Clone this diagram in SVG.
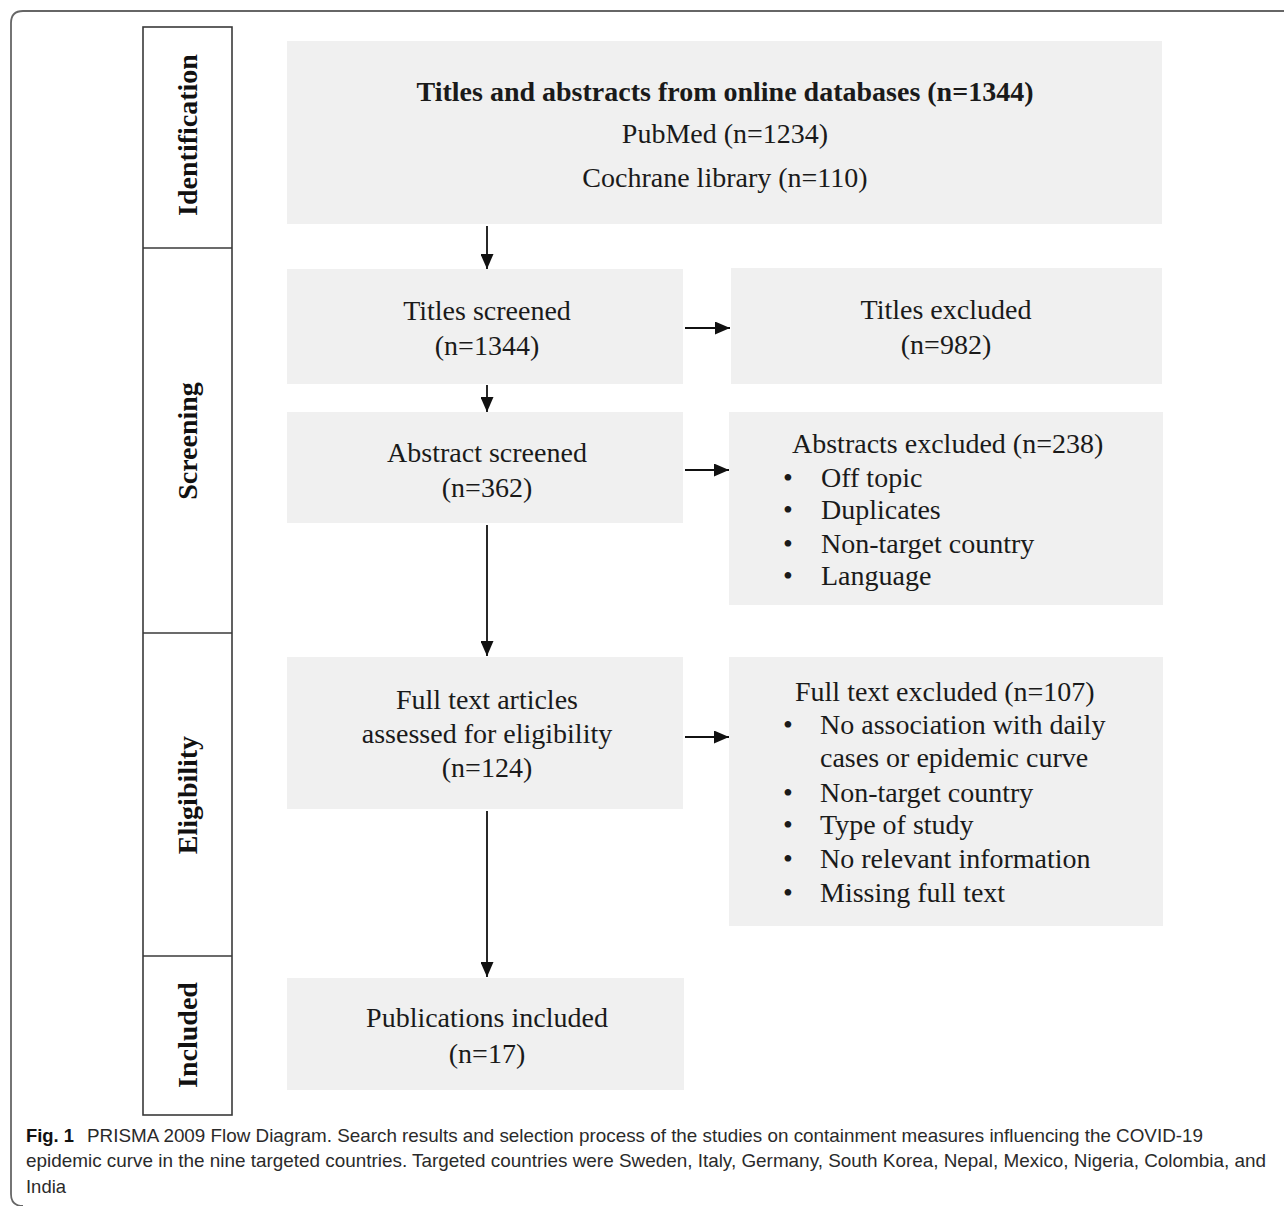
<svg xmlns="http://www.w3.org/2000/svg" width="1284" height="1206" viewBox="0 0 1284 1206">
<style>
.box{fill:#f0f0f0}
.t{font-family:"Liberation Serif","Times New Roman",serif;font-size:28px;fill:#1a1a1a}
.c{text-anchor:middle}
.b{font-weight:bold}
.stage{font-family:"Liberation Serif","Times New Roman",serif;font-size:28px;font-weight:bold;fill:#111;text-anchor:middle}
.col{fill:#fff;stroke:#3a3a3a;stroke-width:1.6}
.div{stroke:#3a3a3a;stroke-width:1.6}
.conn{stroke:#111;stroke-width:1.8;fill:none;marker-end:url(#ah)}
.cap{font-family:"Liberation Sans",Arial,sans-serif;font-size:19px;fill:#2a2a2a}
</style>
<defs>
<marker id="ah" viewBox="0 0 15 13" refX="15" refY="6.5" markerWidth="15" markerHeight="13" markerUnits="userSpaceOnUse" orient="auto">
<path d="M0,0 L15,6.5 L0,13 z" fill="#111"/>
</marker>
</defs>
<rect width="1284" height="1206" fill="#fff"/>
<g id="frame">
<path d="M1290,11 L23,11 Q11,11 11,23 L11,1194 Q11,1206 23,1206" fill="none" stroke="#666" stroke-width="1.8"/>
</g>
<g id="stages">
<rect class="col" x="143" y="27" width="89" height="1088"/>
<line class="div" x1="143" y1="248" x2="232" y2="248"/>
<line class="div" x1="143" y1="633" x2="232" y2="633"/>
<line class="div" x1="143" y1="956" x2="232" y2="956"/>
<text class="stage" transform="translate(197,135) rotate(-90)">Identification</text>
<text class="stage" transform="translate(197,441) rotate(-90)">Screening</text>
<text class="stage" transform="translate(197,795) rotate(-90)">Eligibility</text>
<text class="stage" transform="translate(197,1035) rotate(-90)">Included</text>
</g>
<g id="n-identification">
<rect class="box" x="287" y="41" width="875" height="183"/>
<text class="t c b" x="725" y="101">Titles and abstracts from online databases (n=1344)</text>
<text class="t c" x="725" y="143">PubMed (n=1234)</text>
<text class="t c" x="725" y="187">Cochrane library (n=110)</text>
</g>
<g id="n-titles-screened">
<rect class="box" x="287" y="269" width="396" height="115"/>
<text class="t c" x="487" y="320">Titles screened</text>
<text class="t c" x="487" y="355">(n=1344)</text>
</g>
<g id="n-titles-excluded">
<rect class="box" x="731" y="268" width="431" height="116"/>
<text class="t c" x="946" y="319">Titles excluded</text>
<text class="t c" x="946" y="354">(n=982)</text>
</g>
<g id="n-abstract-screened">
<rect class="box" x="287" y="412" width="396" height="111"/>
<text class="t c" x="487" y="462">Abstract screened</text>
<text class="t c" x="487" y="497">(n=362)</text>
</g>
<g id="n-abstracts-excluded">
<rect class="box" x="729" y="412" width="434" height="193"/>
<text class="t" x="792" y="453">Abstracts excluded (n=238)</text>
<text class="t" x="783" y="487">•</text><text class="t" x="821" y="487">Off topic</text>
<text class="t" x="783" y="519">•</text><text class="t" x="821" y="519">Duplicates</text>
<text class="t" x="783" y="553">•</text><text class="t" x="821" y="553">Non-target country</text>
<text class="t" x="783" y="585">•</text><text class="t" x="821" y="585">Language</text>
</g>
<g id="n-fulltext-assessed">
<rect class="box" x="287" y="657" width="396" height="152"/>
<text class="t c" x="487" y="709">Full text articles</text>
<text class="t c" x="487" y="743">assessed for eligibility</text>
<text class="t c" x="487" y="777">(n=124)</text>
</g>
<g id="n-fulltext-excluded">
<rect class="box" x="729" y="657" width="434" height="269"/>
<text class="t" x="795" y="701">Full text excluded (n=107)</text>
<text class="t" x="783" y="734">•</text><text class="t" x="820" y="734">No association with daily</text>
<text class="t" x="820" y="767">cases or epidemic curve</text>
<text class="t" x="783" y="802">•</text><text class="t" x="820" y="802">Non-target country</text>
<text class="t" x="783" y="834">•</text><text class="t" x="820" y="834">Type of study</text>
<text class="t" x="783" y="868">•</text><text class="t" x="820" y="868">No relevant information</text>
<text class="t" x="783" y="902">•</text><text class="t" x="820" y="902">Missing full text</text>
</g>
<g id="n-included">
<rect class="box" x="287" y="978" width="397" height="112"/>
<text class="t c" x="487" y="1027">Publications included</text>
<text class="t c" x="487" y="1063">(n=17)</text>
</g>
<g id="connectors">
<line class="conn" x1="487" y1="226" x2="487" y2="269"/>
<line class="conn" x1="487" y1="385" x2="487" y2="412"/>
<line class="conn" x1="487" y1="525" x2="487" y2="656"/>
<line class="conn" x1="487" y1="811" x2="487" y2="977"/>
<line class="conn" x1="685" y1="328" x2="730" y2="328"/>
<line class="conn" x1="685" y1="470" x2="729" y2="470"/>
<line class="conn" x1="685" y1="737" x2="729" y2="737"/>
</g>
<g id="caption">
<text class="cap" x="26" y="1142" textLength="48" lengthAdjust="spacingAndGlyphs"><tspan font-weight="bold" fill="#111">Fig. 1</tspan></text>
<text class="cap" x="87" y="1142" textLength="1116" lengthAdjust="spacingAndGlyphs">PRISMA 2009 Flow Diagram. Search results and selection process of the studies on containment measures influencing the COVID-19</text>
<text class="cap" x="26" y="1167" textLength="1240" lengthAdjust="spacingAndGlyphs">epidemic curve in the nine targeted countries. Targeted countries were Sweden, Italy, Germany, South Korea, Nepal, Mexico, Nigeria, Colombia, and</text>
<text class="cap" x="26" y="1193" textLength="40" lengthAdjust="spacingAndGlyphs">India</text>
</g>
</svg>
